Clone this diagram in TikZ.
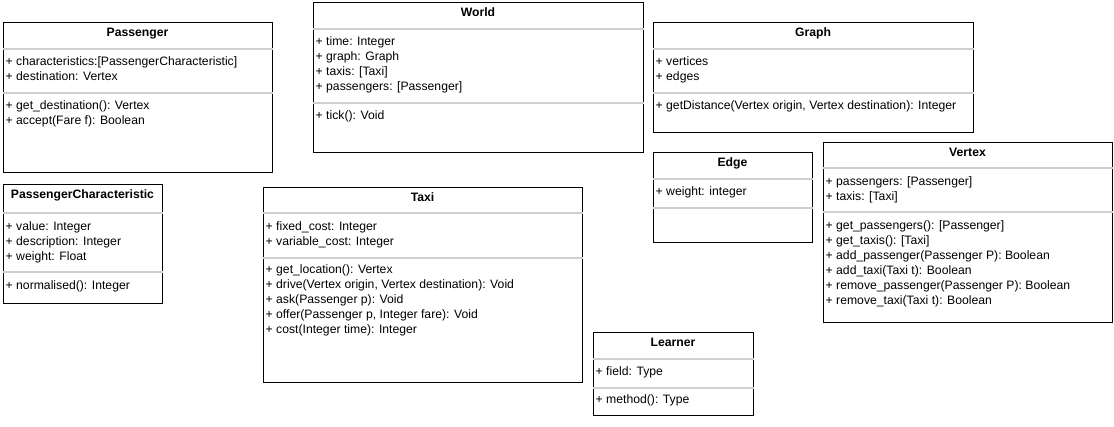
\documentclass[tikz,border=0pt]{standalone}
\usepackage{fontspec}
\setmainfont{Liberation Sans}
\usetikzlibrary{fit}
\definecolor{sepgray}{HTML}{CFCFCF}
\tikzset{
  classbox/.style={draw=black, line width=1pt, inner sep=0pt, fill=white},
  sepline/.style={draw=sepgray, line width=1.6pt},
  titletext/.style={font=\fontsize{12.2}{14}\selectfont\bfseries, inner sep=0pt, anchor=base},
  mtext/.style={font=\fontsize{12.2}{14}\selectfont, inner sep=0pt, anchor=base west},
}
% #1 id, #2 x1, #3 y1, #4 x2, #5 y2, #6 sep1, #7 sep2, #8 title
\newcommand\umlbox[8]{%
  \coordinate (#1-nw) at (#2,#3);
  \coordinate (#1-se) at (#4,#5);
  \node[classbox, fit=(#1-nw)(#1-se)] (#1) {};
  \node[titletext] (#1-title) at ({(#2+#4)/2},{#3+14}) {#8};
  \coordinate (#1-sa) at (#2,#6);
  \coordinate (#1-sb) at (#2,#7);
  \draw[sepline] (#1-sa) -- (#1-sa -| #1.east);
  \draw[sepline] (#1-sb) -- (#1-sb -| #1.east);
}
% #1 prefix, #2 x, #3 baseline of first line, #4 list
\newcommand\umllines[4]{%
  \foreach \t [count=\i] in {#4} {
    \node[mtext] (#1-\i) at ({#2},{#3+15*(\i-1)}) {\t};
  }
}
\begin{document}
\begin{tikzpicture}[x=1pt,y=-1pt]
\useasboundingbox (0,0) rectangle (1114,427);

% Passenger
\umlbox{pass}{3}{23}{272}{173}{49}{93}{Passenger}
\umllines{pass-a}{5.5}{66}{{+ characteristics:[PassengerCharacteristic]},{+ destination: Vertex}}
\umllines{pass-m}{5.5}{110}{{+ get\_destination(): Vertex},{+ accept(Fare f): Boolean}}

% World
\umlbox{world}{313}{3}{643}{153}{29}{103}{World}
\umllines{world-a}{315.5}{46}{{+ time: Integer},{+ graph: Graph},{+ taxis: [Taxi]},{+ passengers: [Passenger]}}
\umllines{world-m}{315.5}{120}{{+ tick(): Void}}

% Graph
\umlbox{graph}{653}{23}{973}{133}{49}{93}{Graph}
\umllines{graph-a}{655.5}{66}{{+ vertices},{+ edges}}
\umllines{graph-m}{655.5}{110}{{+ getDistance(Vertex origin, Vertex destination): Integer}}

% Edge
\umlbox{edge}{653}{153}{812}{243}{179}{208}{Edge}
\umllines{edge-a}{655.5}{196}{{+ weight: integer}}

% Vertex
\umlbox{vertex}{823}{143}{1112}{323}{168}{212}{Vertex}
\umllines{vertex-a}{825.5}{186}{{+ passengers: [Passenger]},{+ taxis: [Taxi]}}
\umllines{vertex-m}{825.5}{230}{{+ get\_passengers(): [Passenger]},{+ get\_taxis(): [Taxi]},{+ add\_passenger(Passenger P): Boolean},{+ add\_taxi(Taxi t): Boolean},{+ remove\_passenger(Passenger P): Boolean},{+ remove\_taxi(Taxi t): Boolean}}

% PassengerCharacteristic
\umlbox{pchar}{3}{185}{162}{304}{213}{272}{PassengerCharacteristic}
\umllines{pchar-a}{5.5}{231}{{+ value: Integer},{+ description: Integer},{+ weight: Float}}
\umllines{pchar-m}{5.5}{290}{{+ normalised(): Integer}}

% Taxi
\umlbox{taxi}{263}{188}{582}{383}{213}{258}{Taxi}
\umllines{taxi-a}{265.5}{231}{{+ fixed\_cost: Integer},{+ variable\_cost: Integer}}
\umllines{taxi-m}{265.5}{274}{{+ get\_location(): Vertex},{+ drive(Vertex origin, Vertex destination): Void},{+ ask(Passenger p): Void},{+ offer(Passenger p, Integer fare): Void},{+ cost(Integer time): Integer}}

% Learner
\umlbox{learner}{593}{333}{753}{416}{359}{388}{Learner}
\umllines{learner-a}{595.5}{376}{{+ field: Type}}
\umllines{learner-m}{595.5}{404}{{+ method(): Type}}
\end{tikzpicture}
\end{document}
